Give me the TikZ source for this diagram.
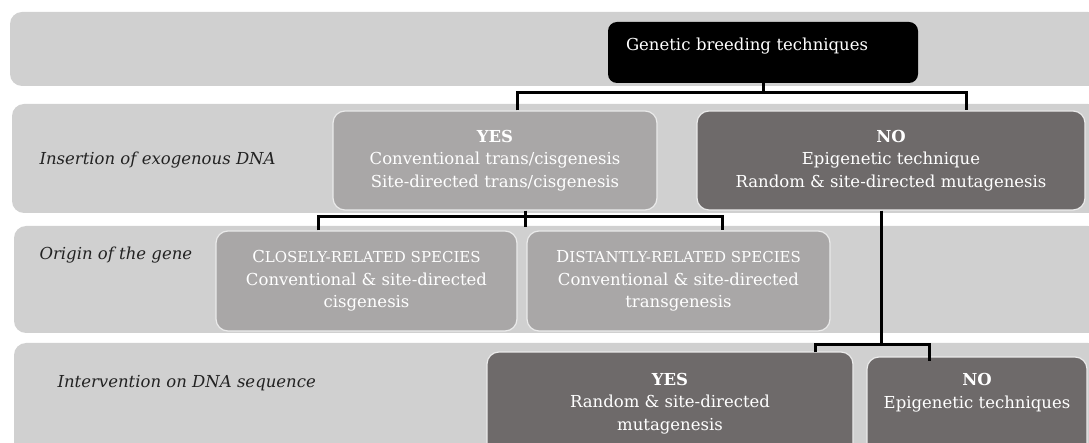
\documentclass[tikz,border=0pt]{standalone}
\usepackage{fontspec}
\setmainfont{DejaVu Serif}
\usetikzlibrary{positioning}

\definecolor{bandgray}{HTML}{D0D0D0}
\definecolor{lightbox}{HTML}{A9A7A7}
\definecolor{darkbox}{HTML}{6E6A6A}
\definecolor{boxline}{HTML}{EBEBEB}
\definecolor{annotgray}{HTML}{222222}

\newcommand{\fakesc}[2]{#1{\fontsize{15pt}{22.5pt}\selectfont #2}}

\begin{document}
\begin{tikzpicture}[x=1pt, y=-1pt, font=\fontsize{16.5pt}{22.5pt}\selectfont]
    \tikzstyle{band}=[rounded corners=12pt, fill=bandgray, inner sep=0pt]
    \tikzstyle{box}=[rounded corners=12pt, draw=boxline, line width=1.2pt, text=white, align=center, inner sep=0pt]
    \tikzstyle{light box}=[box, fill=lightbox]
    \tikzstyle{dark box}=[box, fill=darkbox]
    \tikzstyle{root}=[rounded corners=9pt, fill=black, text=white, align=left, inner xsep=18pt, text width=274pt, text depth=16pt]
    \tikzstyle{annot}=[anchor=west, font=\fontsize{16.5pt}{22.5pt}\selectfont\itshape, text=annotgray]
    \tikzstyle{edge}=[draw=black, line width=3pt]

    \useasboundingbox (0,0) rectangle (1089,443);
    \clip (0,0) rectangle (1089,443);

    % background bands
    \node[band, minimum width=1090pt, minimum height=74pt] (band1) at (555, 49) {};
    \node[band, minimum width=1088pt, minimum height=109pt] (band2) at (556, 158.5) {};
    \node[band, minimum width=1086pt, minimum height=107pt] (band3) at (557, 279.5) {};
    \node[band, minimum width=1086pt, minimum height=117pt] (band4) at (557, 401.5) {};

    % row labels
    \node[annot] (insertion) at (36, 160) {Insertion of exogenous DNA};
    \node[annot] (origin) at (36, 255) {Origin of the gene};
    \node[annot] (intervention) at (54, 383) {Intervention on DNA sequence};

    \node[root, minimum width=310pt, minimum height=61pt] (gbt) at (763, 52.5) {Genetic breeding techniques};

    \node[light box, minimum width=324pt, minimum height=99pt] (yes1) at (495, 160.5)
        {\textbf{YES}\\Conventional trans/cisgenesis\\Site-directed trans/cisgenesis};
    \node[dark box, minimum width=388pt, minimum height=99pt] (no1) at (891, 160.5)
        {\textbf{NO}\\Epigenetic technique\\Random \& site-directed mutagenesis};

    \node[light box, minimum width=301pt, minimum height=100pt] (close) at (366.5, 281)
        {\fakesc{C}{LOSELY-RELATED SPECIES}\\Conventional \& site-directed\\cisgenesis};
    \node[light box, minimum width=303pt, minimum height=100pt] (distant) at (678.5, 281)
        {\fakesc{D}{ISTANTLY-RELATED SPECIES}\\Conventional \& site-directed\\transgenesis};

    \node[dark box, minimum width=366pt, minimum height=103pt] (yes4) at (670, 403.5)
        {\textbf{YES}\\Random \& site-directed\\mutagenesis};
    \node[dark box, minimum width=220pt, minimum height=98pt, text depth=30pt] (no4) at (977, 406)
        {\textbf{NO}\\Epigenetic techniques};

    % connectors
    \coordinate (split1) at (763, 93);
    \coordinate (split2) at (525, 217);
    \coordinate (split3) at (881, 345);
    \draw[edge] (gbt.south) -- (split1);
    \draw[edge] ([xshift=22pt]yes1.north) |- (split1) -| ([xshift=75pt]no1.north);
    \draw[edge] ([xshift=30pt]yes1.south) -- ([yshift=-10pt]split2);
    \draw[edge] ([xshift=-48pt]close.north) |- (split2) -| ([xshift=44pt]distant.north);
    \draw[edge] ([xshift=-10pt]no1.south) -- (split3);
    \draw[edge] ([xshift=145pt,yshift=-1pt]yes4.north) |- (split3) -| ([xshift=-48pt,yshift=-5pt]no4.north);
\end{tikzpicture}
\end{document}
